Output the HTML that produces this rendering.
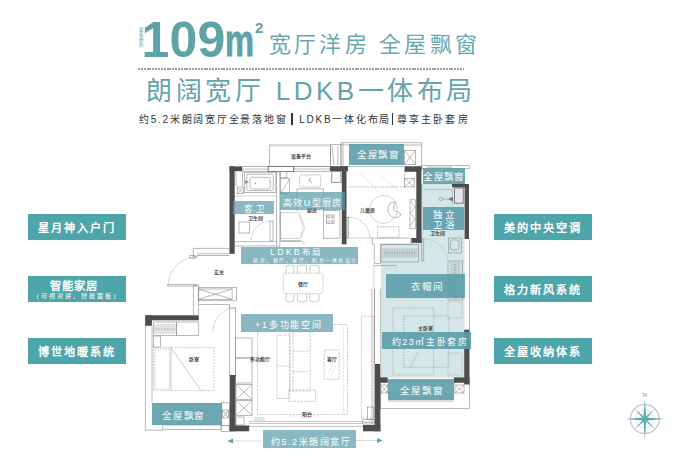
<!DOCTYPE html>
<html lang="zh-CN">
<head>
<meta charset="utf-8">
<style>
html,body{margin:0;padding:0;background:#fff;}
body{width:687px;height:465px;position:relative;overflow:hidden;font-family:"Liberation Sans",sans-serif;}
.a{position:absolute;white-space:nowrap;}
.h1{color:#5d9fa3;}
.num{left:141.5px;top:15px;font-size:50px;line-height:1;font-weight:bold;color:#61a2a7;letter-spacing:0.2px;}
.m{left:225.3px;top:19.5px;font-size:43.5px;line-height:1;font-weight:bold;color:#61a2a7;transform:scaleX(0.75);transform-origin:0 0;-webkit-text-stroke:0.9px #61a2a7;}
.sup{left:255px;top:19.8px;font-size:15px;line-height:1;font-weight:bold;color:#61a2a7;}
.vt{left:137.3px;top:26.5px;font-size:4.4px;color:#6aa9ac;writing-mode:vertical-rl;letter-spacing:0.1px;}
.t1{left:269px;top:26px;font-size:22px;font-weight:300;color:#6aa8ab;letter-spacing:3.2px;}
.t2{left:146px;top:69.7px;font-size:26px;color:#64a4a8;letter-spacing:3.5px;word-spacing:1px;}
.t3{left:139px;top:111px;font-size:10px;color:#333;letter-spacing:1.75px;}
.sep{display:inline-block;width:1.4px;height:11.6px;background:#333;vertical-align:-2px;}
.dash{left:138px;top:68px;width:326px;height:2px;background:repeating-linear-gradient(90deg,#9c9c9c 0 2px,transparent 2px 2.85px);}
.box{position:absolute;background:#4ea6aa;color:#fff;display:flex;align-items:center;justify-content:center;flex-direction:column;font-weight:bold;font-size:11.2px;letter-spacing:2.05px;}
.lt{background:rgba(92,157,170,0.72)!important;}
.lab{position:absolute;background:rgba(92,157,170,0.9);color:#fff;display:flex;align-items:center;justify-content:center;flex-direction:column;font-size:10px;letter-spacing:1.5px;font-weight:300;line-height:1;}
</style>
</head>
<body>
<svg class="a" style="left:0;top:0" width="687" height="465" viewBox="0 0 687 465">
<defs>
<pattern id="hang" width="2.2" height="10" patternUnits="userSpaceOnUse"><ellipse cx="1.1" cy="5" rx="0.9" ry="4" fill="none" stroke="#9a9a9a" stroke-width="0.35"/></pattern>
<pattern id="hangv" width="10" height="2.2" patternUnits="userSpaceOnUse"><ellipse cx="5" cy="1.1" rx="4" ry="0.9" fill="none" stroke="#9a9a9a" stroke-width="0.35"/></pattern>
</defs>
<!-- light teal tint -->
<g fill="#d5e6e8">
<rect x="421.7" y="184" width="42.8" height="59"/>
<rect x="381" y="243" width="83.5" height="135"/>
</g>
<g fill="none" stroke="#8a8a8a" stroke-width="0.6">
  <!-- equipment platform -->
  <rect x="269.5" y="145" width="61" height="21.5"/>
  <path d="M269.5 146.3 H330.5" stroke="#ccc"/>
  <rect x="330.5" y="144.5" width="10.5" height="22"/>
  <path d="M332 146 L334 165 M338 146 V165"/>
  <!-- top window -->
  <rect x="242" y="166.6" width="88" height="5"/>
  <path d="M242 169.1 H330"/>
  <rect x="268.2" y="166.4" width="25.5" height="5.2" fill="#fff" stroke="#6a6a6a" stroke-width="0.9"/>
  <!-- bathroom -->
  <rect x="244.3" y="172.2" width="31.6" height="20.4"/>
  <rect x="246.8" y="174.2" width="26.5" height="16.4" rx="1.5"/>
  <rect x="250" y="177.3" width="20.3" height="11.7" rx="2.5"/>
  <circle cx="255.5" cy="183.2" r="0.5" fill="#888"/>
  <path d="M245.3 180.5 L248.4 182 L245.3 183.5 Z" fill="#888"/>
  <rect x="237.2" y="187" width="6.1" height="6.6"/>
  <path d="M237.2 187 L243.3 193.6 M243.3 187 L237.2 193.6"/>
  <path d="M236 172 V186 M242.5 172 V186"/>
  <path d="M234.7 196 H276" stroke-dasharray="1.5 1"/>
  <rect x="239" y="222" width="10.7" height="11"/>
  <path d="M276.5 171.5 V246 M279.8 171.5 V246 M234.7 241.6 H276.5 M234.7 246 H279.8"/>
  <rect x="270" y="221" width="3" height="19.5"/>
  <path d="M270 221 A20 20 0 0 0 251 241" stroke-dasharray="1.2 0.8"/>
  <!-- kitchen -->
  <rect x="280.5" y="171.4" width="6.4" height="6.4"/>
  <rect x="280.5" y="178.7" width="9.1" height="14.7"/>
  <path d="M280.5 193.4 L289.6 178.7"/>
  <rect x="331.7" y="171.4" width="9.2" height="11" stroke-width="0.9"/>
  <rect x="299.7" y="175" width="21" height="12" rx="1.5" stroke-dasharray="1.5 0.8"/>
  <path d="M310 177 V181 M308 180 L312 183"/>
  <path d="M297 211 V188.8 H323.5 V210.7"/>
  <rect x="323.5" y="210.7" width="16.5" height="27.5"/>
  <rect x="326.5" y="215" width="7.5" height="8.5"/>
  <circle cx="328.5" cy="217" r="1"/><circle cx="332" cy="217" r="1"/><circle cx="328.5" cy="221.5" r="1"/><circle cx="332" cy="221.5" r="1"/>
  <path d="M281 212.7 H298.6 L303.5 227.6 L299.9 238.4 H281" stroke-dasharray="1.2 0.7" stroke="#888"/>
  <path d="M281 212.7 V238.4" stroke="#ccc" stroke-dasharray="1 1"/>
  <path d="M300 213 L304.8 227.6 L301.3 238" stroke="#aaa" stroke-dasharray="1 0.6"/>
  <path d="M280.5 211 V242"/>
  <rect x="281.4" y="240.2" width="19.4" height="1.8" fill="#b5b5b5" stroke="none"/>
  <path d="M300.8 241 L305 244" stroke="#999"/>
  <!-- children room -->
  <rect x="341" y="142.8" width="80.4" height="23.7"/>
  <path d="M343 142.8 V166.5 M341 145 H421.4"/>
  <rect x="404.3" y="150.4" width="11.4" height="14.2"/>
  <path d="M404.3 150.4 L415.7 164.6 M415.7 150.4 L404.3 164.6"/>
  <path d="M347.5 186.9 H404.5 V171.5" stroke-dasharray="1.5 1"/>
  <path d="M360 172 L386 200 M380 175 L398 190" stroke="#bbb" stroke-dasharray="1 1"/>
  <rect x="404.5" y="178.3" width="9.7" height="8.6"/>
  <path d="M404.5 178.3 L414.2 186.9 M414.2 178.3 L404.5 186.9"/>
  <circle cx="383.5" cy="209.5" r="14" stroke="#b5b5b5"/>
  <path d="M390 203 Q385 212 392 217 Q399 219 401 214 L394 210 Q392 206 396 202 Z"/>
  <rect x="377.6" y="226.7" width="21.4" height="10.7" stroke-dasharray="1.5 1"/>
  <rect x="410" y="199.8" width="5.3" height="29"/>
  <path d="M410.5 201 L415 207 L410.5 213 L415 219 L410.5 225"/>
  <rect x="347" y="217.4" width="1.6" height="20.4"/>
  <path d="M348.6 217.4 A21 21 0 0 1 370 238.2" stroke-dasharray="1.2 0.8"/>
  <path d="M346.5 238.2 H372" stroke-dasharray="1.2 0.8"/>
  <path d="M372.2 238.1 H411 V244.2 H380.4 V263.6 H374.3 V244.2 H372.2 Z" fill="#fff"/>
  <path d="M373.2 265.6 H396.7"/>
  <path d="M374 265 V288" stroke-dasharray="1.2 0.8"/>
  <path d="M372 288.7 V424 M374.5 288.7 V364 M380.4 288.7 V364"/>
  <!-- closet -->
  <rect x="381" y="244.4" width="37.6" height="17.6"/>
  <path d="M382.5 253.0a0.95 4.6 0 1 0 1.9 0a0.95 4.6 0 1 0 -1.9 0M385.0 253.0a0.95 4.6 0 1 0 1.9 0a0.95 4.6 0 1 0 -1.9 0M387.5 253.0a0.95 4.6 0 1 0 1.9 0a0.95 4.6 0 1 0 -1.9 0M390.0 253.0a0.95 4.6 0 1 0 1.9 0a0.95 4.6 0 1 0 -1.9 0M392.5 253.0a0.95 4.6 0 1 0 1.9 0a0.95 4.6 0 1 0 -1.9 0M395.0 253.0a0.95 4.6 0 1 0 1.9 0a0.95 4.6 0 1 0 -1.9 0M397.5 253.0a0.95 4.6 0 1 0 1.9 0a0.95 4.6 0 1 0 -1.9 0M400.0 253.0a0.95 4.6 0 1 0 1.9 0a0.95 4.6 0 1 0 -1.9 0M402.5 253.0a0.95 4.6 0 1 0 1.9 0a0.95 4.6 0 1 0 -1.9 0M405.0 253.0a0.95 4.6 0 1 0 1.9 0a0.95 4.6 0 1 0 -1.9 0M407.5 253.0a0.95 4.6 0 1 0 1.9 0a0.95 4.6 0 1 0 -1.9 0M410.0 253.0a0.95 4.6 0 1 0 1.9 0a0.95 4.6 0 1 0 -1.9 0M412.5 253.0a0.95 4.6 0 1 0 1.9 0a0.95 4.6 0 1 0 -1.9 0M415.0 253.0a0.95 4.6 0 1 0 1.9 0a0.95 4.6 0 1 0 -1.9 0 M382.5 253 H417" stroke="#8f8f8f" stroke-width="0.35"/>
  
  <rect x="448" y="261" width="14.7" height="39"/>
  <path d="M450.0 263.4a5.2 0.95 0 1 0 10.4 0a5.2 0.95 0 1 0 -10.4 0M450.0 266.1a5.2 0.95 0 1 0 10.4 0a5.2 0.95 0 1 0 -10.4 0M450.0 268.7a5.2 0.95 0 1 0 10.4 0a5.2 0.95 0 1 0 -10.4 0M450.0 271.3a5.2 0.95 0 1 0 10.4 0a5.2 0.95 0 1 0 -10.4 0M450.0 273.9a5.2 0.95 0 1 0 10.4 0a5.2 0.95 0 1 0 -10.4 0M450.0 276.5a5.2 0.95 0 1 0 10.4 0a5.2 0.95 0 1 0 -10.4 0M450.0 279.1a5.2 0.95 0 1 0 10.4 0a5.2 0.95 0 1 0 -10.4 0M450.0 281.7a5.2 0.95 0 1 0 10.4 0a5.2 0.95 0 1 0 -10.4 0M450.0 284.3a5.2 0.95 0 1 0 10.4 0a5.2 0.95 0 1 0 -10.4 0M450.0 286.9a5.2 0.95 0 1 0 10.4 0a5.2 0.95 0 1 0 -10.4 0M450.0 289.5a5.2 0.95 0 1 0 10.4 0a5.2 0.95 0 1 0 -10.4 0M450.0 292.1a5.2 0.95 0 1 0 10.4 0a5.2 0.95 0 1 0 -10.4 0M450.0 294.7a5.2 0.95 0 1 0 10.4 0a5.2 0.95 0 1 0 -10.4 0M450.0 297.3a5.2 0.95 0 1 0 10.4 0a5.2 0.95 0 1 0 -10.4 0 M455.2 262.5 V299" stroke="#8f8f8f" stroke-width="0.35"/>
  <rect x="448.3" y="238" width="13" height="15" />
  <rect x="450.5" y="240" width="8.5" height="10" rx="2"/>
  <path d="M423.5 239 A25 25 0 0 1 448 260" stroke-dasharray="1.2 0.8" stroke="#aaa"/>
  <rect x="421.8" y="239" width="2" height="22"/>
  <path d="M421.7 184 V243"/>
  <!-- master bath -->
  <rect x="422" y="165.7" width="47.5" height="3"/>
  <rect x="427" y="166.4" width="25.4" height="2.2" fill="#d0d0d0" stroke="none"/>
  <path d="M423.6 189.5 H452.4 V206" stroke-dasharray="1.2 0.8"/>
  <rect x="454.6" y="188" width="8.6" height="15.2" fill="#e6e6e6" stroke="#666" stroke-width="0.8"/>
  <circle cx="440.9" cy="199.1" r="1.7"/>
  <path d="M442.6 199.1 H448.5"/>
  <path d="M448 199.1 L453 196.8 L453 201.4 Z" fill="#777" stroke="none"/>
  <!-- master bedroom -->
  <rect x="393" y="308" width="40.7" height="66.9" stroke-dasharray="2 1" stroke="#a5a5a5"/>
  <rect x="403.7" y="315.8" width="45.1" height="51.5" stroke-dasharray="2 1" stroke="#a5a5a5"/>
  <path d="M418 352 L410 368" stroke="#aaa"/>
  <rect x="448" y="353" width="14" height="22" stroke-dasharray="1.5 1" stroke="#aaa"/>
  <rect x="448" y="302" width="14" height="16" stroke-dasharray="1.5 1" stroke="#aaa"/>
  <!-- master bay -->
  <rect x="380.4" y="382.6" width="89" height="25.8"/>
  <path d="M388 398 H454 M388 401 H454"/>
  <rect x="381" y="385" width="6.7" height="8"/>
  <path d="M381 385 L387.7 393 M387.7 385 L381 393"/>
  <rect x="455" y="385" width="9" height="8"/>
  <path d="M455 385 L464 393 M464 385 L455 393"/>
  <path d="M469.5 240 V330" />
  <!-- entry -->
  <path d="M193.3 248.4 H229.5 M193.3 248.4 V257.2 H197 V255.5 H229.5 M197 253.8 H229.5"/>
  <rect x="190" y="255.5" width="5" height="3"/>
  <path d="M197 256.8 A28.8 28.8 0 0 0 168.2 285.4" stroke-dasharray="1.2 0.8"/>
  <rect x="167.7" y="284.7" width="29.3" height="1.4"/>
  <path d="M193.4 285.6 V315 M198.6 285.6 V315 M193.4 285.6 H198.6"/>
  <rect x="198.6" y="289" width="33.5" height="10.3"/>
  <rect x="198.6" y="287.5" width="37.8" height="13.3"/>
  <path d="M198.6 289 L232.1 299.3 M232.1 289 L198.6 299.3"/>
  <path d="M198.6 304.5 H229.6 V308 H236.4"/>
  <path d="M236 308 A23 23 0 0 0 213 331" stroke-dasharray="1.2 0.8"/>
  <path d="M229.5 306 V376 M235.5 308 V376"/>
  <!-- dining -->
  <rect x="283.3" y="273.2" width="39.7" height="20.4" rx="2" stroke-dasharray="1.6 1" stroke="#9a9a9a"/>
  <path d="M286 273 V266 Q290 264 294 266 V273 M297.5 273 V266 Q302 264 306.5 266 V273 M310 273 V266 Q314.5 264 319 266 V273" stroke="#aaa"/>
  <path d="M286 294 V301 Q290 303 294 301 V294 M297.5 294 V301 Q302 303 306.5 301 V294 M310 294 V301 Q314.5 303 319 301 V294" stroke="#aaa"/>
  <!-- living -->
  <g stroke="#ababab" stroke-dasharray="2.4 1">
  <path d="M333.5 324.5 H347.4 V414.6 H257.5 V331.8"/>
  <path d="M343.5 326.6 V414" stroke="#d0d0d0"/>
  <rect x="276.9" y="335" width="12.9" height="63.5"/>
  <path d="M276.9 366.2 H289.8"/>
  <rect x="289.8" y="331.8" width="20.4" height="59.2"/>
  <path d="M293 331.8 V391 M293 351.2 H310.2 M293 371.6 H310.2"/>
  <rect x="288.7" y="389.9" width="26.9" height="11.4"/>
  <rect x="324.2" y="350" width="15" height="29.1"/>
  </g>
  <path d="M328 374 L336 360 M330 377 L337.5 364" stroke="#b5b5b5" stroke-dasharray="1 1"/>
  <rect x="235.5" y="338" width="16.5" height="20"/>
  <rect x="235.5" y="358" width="16.5" height="25"/>
  <rect x="236" y="384.5" width="16" height="15"/>
  <path d="M236 384.5 L252 399.5 M252 384.5 L236 399.5"/>
  <rect x="236" y="400.5" width="16" height="15"/>
  <path d="M236 400.5 L252 415.5 M252 400.5 L236 415.5"/>
  <rect x="236" y="417" width="8" height="8"/>
  <rect x="361.4" y="316.2" width="12.4" height="101.8" stroke-dasharray="2 1" stroke="#a8a8a8"/>
  <rect x="367.6" y="407" width="6.2" height="12.7"/>
  <path d="M374.5 288.6 V364.5"/>
  <rect x="362.4" y="419.7" width="12" height="3.3" fill="url(#hang)"/>
  <path d="M249 421.5 H363 M249 423.5 H363 M249 426.5 H363" stroke="#a0a0a0"/>
  <path d="M254 418 H265 M254 420 H265" stroke="#aaa"/>
  <!-- bedroom -->
  <rect x="153.4" y="322" width="22.9" height="13.5"/>
  <path d="M154.5 329.0a0.95 5 0 1 0 1.9 0a0.95 5 0 1 0 -1.9 0M157.2 329.0a0.95 5 0 1 0 1.9 0a0.95 5 0 1 0 -1.9 0M159.9 329.0a0.95 5 0 1 0 1.9 0a0.95 5 0 1 0 -1.9 0M162.6 329.0a0.95 5 0 1 0 1.9 0a0.95 5 0 1 0 -1.9 0M165.3 329.0a0.95 5 0 1 0 1.9 0a0.95 5 0 1 0 -1.9 0M168.0 329.0a0.95 5 0 1 0 1.9 0a0.95 5 0 1 0 -1.9 0M170.7 329.0a0.95 5 0 1 0 1.9 0a0.95 5 0 1 0 -1.9 0M173.4 329.0a0.95 5 0 1 0 1.9 0a0.95 5 0 1 0 -1.9 0 M154.5 329 H176" stroke="#8f8f8f" stroke-width="0.35"/>
  <rect x="176.3" y="322" width="22.5" height="13.5"/>
  <rect x="153.4" y="336" width="7" height="11"/>
  <rect x="153.4" y="347.6" width="60.6" height="43" stroke-dasharray="2 1" stroke="#a8a8a8"/>
  <rect x="155" y="349" width="14.6" height="40" stroke-dasharray="1.5 1" stroke="#a8a8a8"/>
  <path d="M171 347.6 L201 390.6 M171 347.6 V390.6" stroke="#aaa"/>
  <path d="M145.4 320 V430.2 M152 326 V402.8 M145.4 430.2 H162.8"/>
  <rect x="162.8" y="425" width="58" height="4.6"/>
  <rect x="221.5" y="402.8" width="8" height="22.7"/>
  <rect x="222.5" y="410" width="6" height="8"/>
  <path d="M222.5 410 L228.5 418 M228.5 410 L222.5 418"/>
  <rect x="221.5" y="425.5" width="8" height="5.8"/>
</g>
<g fill="#4d4d4d">
  <rect x="229.5" y="166.4" width="12.5" height="4.8"/>
  <rect x="229.5" y="166.4" width="5.2" height="87.4"/>
  <rect x="330" y="166.3" width="18" height="4.8"/>
  <rect x="341.8" y="166.3" width="4.7" height="78"/>
  <rect x="404.5" y="166.5" width="16.9" height="5.3"/>
  <rect x="416.3" y="166.5" width="5.1" height="76.3"/>
  <rect x="411.4" y="238" width="10" height="4.8"/>
  <rect x="464.6" y="184" width="4.4" height="55"/>
  <rect x="452" y="184" width="17" height="3.3"/>
  <rect x="145.3" y="315.3" width="53.5" height="5"/>
  <rect x="145.3" y="315.3" width="6.6" height="10.5"/>
  <rect x="229.7" y="375" width="5.8" height="56.3"/>
  <rect x="229.7" y="425.5" width="19.5" height="5.8"/>
  <rect x="374.6" y="364" width="5.8" height="67.3"/>
  <rect x="363" y="424.8" width="17.4" height="6.5"/>
  <rect x="464.2" y="329.7" width="5.3" height="54.8"/>
  <rect x="379.7" y="377.4" width="8" height="5.2"/>
  <rect x="454" y="377.4" width="15.5" height="5.2"/>
</g>
<g font-size="5" fill="#4a4a4a" font-weight="bold" text-anchor="middle">
  <text x="301" y="158.3">设备平台</text>
  <text x="255" y="219.5">卫生间</text>
  <text x="367" y="212">儿童房</text>
  <text x="437.5" y="235">卫生间</text>
  <text x="218.5" y="273.5">玄关</text>
  <text x="303" y="285.5">餐厅</text>
  <text x="259.7" y="360.5">多功能厅</text>
  <text x="331.7" y="360.5">客厅</text>
  <text x="307" y="416">阳台</text>
  <text x="193.5" y="361">卧室</text>
  <text x="425" y="330">主卧室</text>
  <text x="312" y="212.3">厨房</text>
</g>
<!-- compass -->
<g transform="translate(644.8,419)">
  <circle r="14.4" fill="none" stroke="#cdcdcd" stroke-width="1.5"/>
  <circle r="9" fill="none" stroke="#dcdcdc" stroke-width="1.4" stroke-dasharray="1 0.8"/>
  <path d="M0 -14 L1 -1 L14 0 L1 1 L0 14 L-1 1 L-14 0 L-1 -1 Z" fill="#62b0b5" transform="rotate(45) scale(1.05)"/>
  <path d="M0 -19.8 L1.4 -1.4 L20.5 0 L1.4 1.4 L0 20 L-1.4 1.4 L-20.5 0 L-1.4 -1.4 Z" fill="#5aaab0"/>
  <text x="0" y="-22" font-family="Liberation Serif" font-size="7" fill="#8a8a8a" text-anchor="middle">N</text>
</g>
<!-- arrows -->
<path d="M233 441 H262 M355 440.5 H380" stroke="#d6dcdc" stroke-width="1"/>
<path d="M227.3 441 L233 438.5 L233 443.5 Z M382.5 440.5 L377 438 L377 443 Z" fill="#5aa5a8"/>
</svg>

<!-- headline -->
<div class="a vt">建筑面积约</div>
<div class="a num">109</div>
<div class="a m">m</div>
<div class="a sup">2</div>
<div class="a t1">宽厅洋房 全屋飘窗</div>
<div class="a dash"></div>
<div class="a t2">朗阔宽厅 LDKB一体布局</div>
<div class="a t3">约5.2米朗阔宽厅全景落地窗<span class="sep" style="margin:0 6.5px 0 4px"></span>LDKB一体化布局<span class="sep" style="margin:0 3.5px 0 0.5px"></span><span style="letter-spacing:2.2px">尊享主卧套房</span></div>

<!-- side boxes -->
<div class="box" style="left:28px;top:213.5px;width:98px;height:26px;">星月神入户门</div>
<div class="box" style="left:28px;top:275.6px;width:98px;height:26.4px;"><div style="line-height:12px;margin:2.5px 6px 0 0;letter-spacing:1.1px;font-size:11.4px">智能家居</div><div style="font-size:6.2px;font-weight:normal;letter-spacing:2.1px;line-height:8px;margin:0.3px 0 0 0">(可视对讲、智能面板)</div></div>
<div class="box" style="left:28px;top:338px;width:98px;height:26px;">博世地暖系统</div>
<div class="box" style="left:493.7px;top:213.5px;width:98.2px;height:26px;">美的中央空调</div>
<div class="box" style="left:493.7px;top:275.5px;width:98.2px;height:26.2px;">格力新风系统</div>
<div class="box" style="left:493.7px;top:337.5px;width:98.2px;height:26.1px;">全屋收纳体系</div>

<!-- plan labels -->
<div class="lab" style="left:348.5px;top:144.2px;width:55.3px;height:21.3px;font-size:9.5px;letter-spacing:0.4px;padding:0.5px 0 0 4px;box-sizing:border-box;">全屋飘窗</div>
<div class="lab" style="left:423.3px;top:168.4px;width:41.6px;height:16.1px;font-size:9.5px;letter-spacing:0.3px;padding-top:0.5px;box-sizing:border-box;">全屋飘窗</div>
<div class="lab lt" style="left:233.1px;top:200.6px;width:41.4px;height:13.9px;font-size:8.6px;letter-spacing:2.8px;padding:2.6px 0 0 3.5px;box-sizing:border-box;">客卫</div>
<div class="lab lt" style="left:279.8px;top:192.4px;width:65.5px;height:18px;font-size:9px;letter-spacing:1.4px;padding:4px 0 0 0.5px;box-sizing:border-box;">高效U型厨房</div>
<div class="lab" style="left:422.8px;top:207.1px;width:41.7px;height:22.6px;font-size:9.5px;letter-spacing:1.6px;line-height:10px;padding:3px 0 0 2px;box-sizing:border-box;">独立<br>卫浴</div>
<div class="lab lt" style="left:241.1px;top:246.8px;width:116.8px;height:17.7px;"><div style="font-size:8.5px;letter-spacing:1.5px;line-height:9px;margin:-1px 6px 0 0"><span style="font-size:8.8px;letter-spacing:2.2px">LDKB</span>布局</div><div style="font-size:5px;letter-spacing:1.55px;line-height:6px;margin-left:12px">厨房、餐厅、客厅、阳台一体化设计</div></div>
<div class="lab" style="left:385.8px;top:274px;width:79.2px;height:23.6px;font-size:9.5px;letter-spacing:1px;padding:1px 0 0 5px;box-sizing:border-box;">衣帽间</div>
<div class="lab lt" style="left:240.9px;top:314.3px;width:92.1px;height:17.7px;font-size:9px;letter-spacing:1.8px;padding:5px 0 0 4px;box-sizing:border-box;">+1多功能空间</div>
<div class="lab" style="left:382.2px;top:331.9px;width:88.5px;height:17.2px;font-size:9px;letter-spacing:1.6px;padding:4px 0 0 7px;box-sizing:border-box;">约23㎡主卧套房</div>
<div class="lab" style="left:387.9px;top:378.6px;width:66.1px;height:21.2px;font-size:9.5px;letter-spacing:0.8px;padding:3px 0 0 2px;box-sizing:border-box;">全屋飘窗</div>
<div class="lab" style="left:151.8px;top:402.6px;width:69.8px;height:22.9px;font-size:9.5px;letter-spacing:0.8px;padding:4px 6px 0 0;box-sizing:border-box;">全屋飘窗</div>
<div class="lab lt" style="left:262.6px;top:430px;width:93px;height:17.8px;font-size:9px;letter-spacing:1.5px;padding:7px 0 0 4px;box-sizing:border-box;">约5.2米朗阔宽厅</div>
</body>
</html>
